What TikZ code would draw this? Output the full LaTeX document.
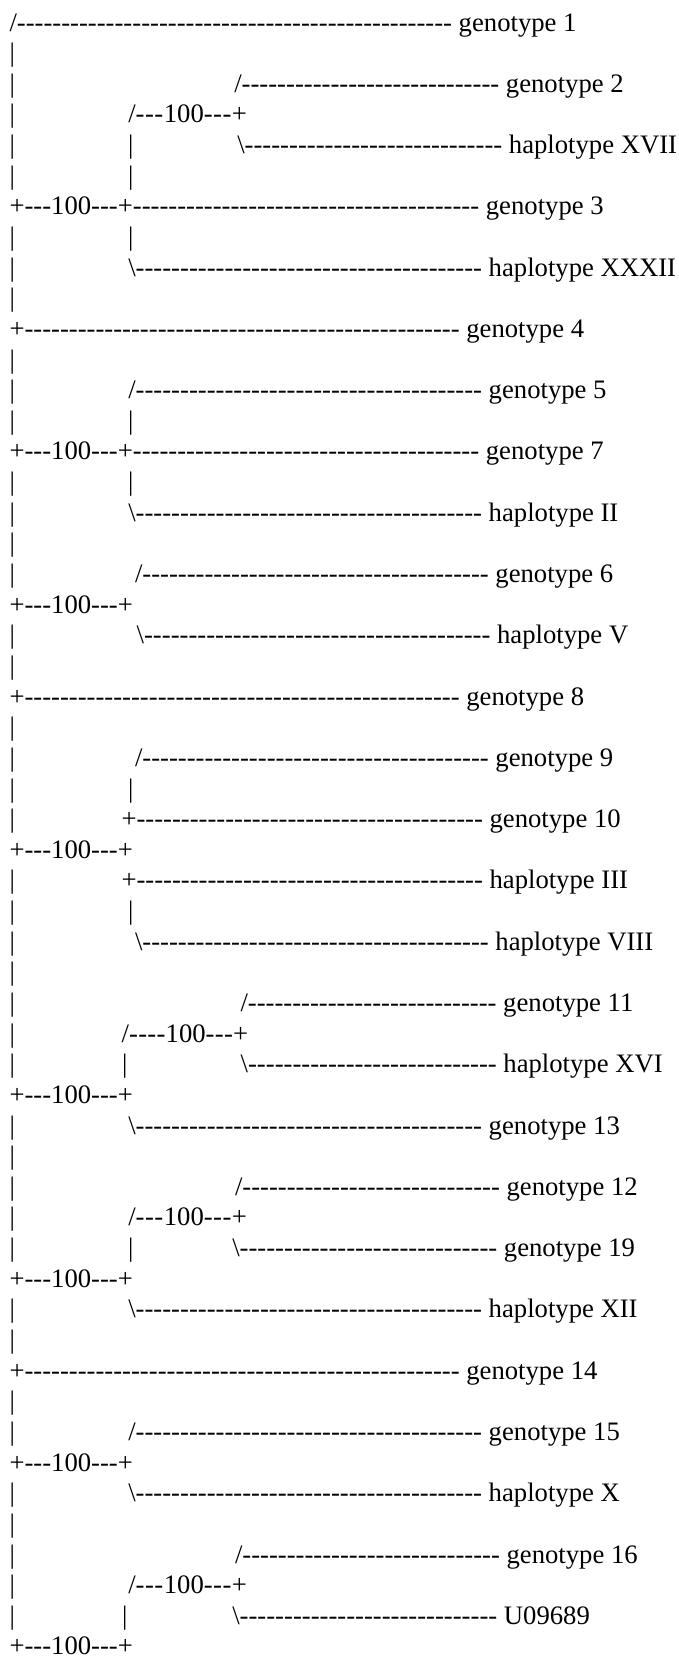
\documentclass[tikz,border=0pt]{standalone}
\usepackage{fontspec}
\setmainfont{Liberation Serif}
\makeatletter
\newcommand\dashesk[2]{\begingroup\@tempcnta=#1\relax\loop\ifnum\@tempcnta>0 -\kern#2\advance\@tempcnta\m@ne\repeat\endgroup}
\makeatother
\newcommand\dashes[1]{\dashesk{#1}{0pt}}
\newcommand\myvb{\textbar}
\newcommand\mybs{\textbackslash}
\newcommand\hund[2][0pt]{\dashesk{#2}{#1}100\dashesk{3}{#1}+}
\tikzset{txt/.style={anchor=base west, inner sep=0pt, outer sep=0pt, font=\fontsize{26.67}{32}\selectfont}}
\newcommand\row[4]{\node[txt] (#3) at (#2,{-31-(#1-1)*30.64}) {#4};}
\begin{document}
\begin{tikzpicture}[x=1pt,y=1pt]
\fill[white] (0,0) rectangle (679,-1660);
\useasboundingbox (0,0) rectangle (679,-1660);
\row{1}{9.5}{r1}{/\dashes{49}\ genotype 1}
\row{2}{9.5}{r2}{\myvb}
\row{3}{9.5}{r3}{\myvb}\row{3}{234.3}{r3b}{/\dashes{29}\ genotype 2}
\row{4}{9.5}{r4}{\myvb}\row{4}{128.3}{r4b}{/\hund[0.5pt]{3}}
\row{5}{9.5}{r5}{\myvb}\row{5}{128.2}{r5b}{\myvb}\row{5}{237.3}{r5c}{\mybs\dashes{29}\ haplotype XVII}
\row{6}{9.5}{r6}{\myvb}\row{6}{128.2}{r6b}{\myvb}
\row{7}{9.5}{r7}{+\hund{3}\dashes{39}\ genotype 3}
\row{8}{9.5}{r8}{\myvb}\row{8}{128.2}{r8b}{\myvb}
\row{9}{9.5}{r9}{\myvb}\row{9}{128.3}{r9b}{\mybs\dashes{39}\ haplotype XXXII}
\row{10}{9.5}{r10}{\myvb}
\row{11}{9.5}{r11}{+\dashes{49}\ genotype 4}
\row{12}{9.5}{r12}{\myvb}
\row{13}{9.5}{r13}{\myvb}\row{13}{128.3}{r13b}{/\dashes{39}\ genotype 5}
\row{14}{9.5}{r14}{\myvb}\row{14}{128.2}{r14b}{\myvb}
\row{15}{9.5}{r15}{+\hund{3}\dashes{39}\ genotype 7}
\row{16}{9.5}{r16}{\myvb}\row{16}{128.2}{r16b}{\myvb}
\row{17}{9.5}{r17}{\myvb}\row{17}{128.3}{r17b}{\mybs\dashes{39}\ haplotype II}
\row{18}{9.5}{r18}{\myvb}
\row{19}{9.5}{r19}{\myvb}\row{19}{135}{r19b}{/\dashes{39}\ genotype 6}
\row{20}{9.5}{r20}{+\hund{3}}
\row{21}{9.5}{r21}{\myvb}\row{21}{136.7}{r21b}{\mybs\dashes{39}\ haplotype V}
\row{22}{9.5}{r22}{\myvb}
\row{23}{9.5}{r23}{+\dashes{49}\ genotype 8}
\row{24}{9.5}{r24}{\myvb}
\row{25}{9.5}{r25}{\myvb}\row{25}{135}{r25b}{/\dashes{39}\ genotype 9}
\row{26}{9.5}{r26}{\myvb}\row{26}{128.2}{r26b}{\myvb}
\row{27}{9.5}{r27}{\myvb}\row{27}{121.5}{r27b}{+\dashes{39}\ genotype 10}
\row{28}{9.5}{r28}{+\hund{3}}
\row{29}{9.5}{r29}{\myvb}\row{29}{121.5}{r29b}{+\dashes{39}\ haplotype III}
\row{30}{9.5}{r30}{\myvb}\row{30}{128.2}{r30b}{\myvb}
\row{31}{9.5}{r31}{\myvb}\row{31}{135}{r31b}{\mybs\dashes{39}\ haplotype VIII}
\row{32}{9.5}{r32}{\myvb}
\row{33}{9.5}{r33}{\myvb}\row{33}{240.5}{r33b}{/\dashes{28}\ genotype 11}
\row{34}{9.5}{r34}{\myvb}\row{34}{121.7}{r34b}{/\hund[0.28pt]{4}}
\row{35}{9.5}{r35}{\myvb}\row{35}{122.2}{r35b}{\myvb}\row{35}{240.7}{r35c}{\mybs\dashes{28}\ haplotype XVI}
\row{36}{9.5}{r36}{+\hund{3}}
\row{37}{9.5}{r37}{\myvb}\row{37}{128.3}{r37b}{\mybs\dashes{39}\ genotype 13}
\row{38}{9.5}{r38}{\myvb}
\row{39}{9.5}{r39}{\myvb}\row{39}{235}{r39b}{/\dashes{29}\ genotype 12}
\row{40}{9.5}{r40}{\myvb}\row{40}{128.3}{r40b}{/\hund[0.5pt]{3}}
\row{41}{9.5}{r41}{\myvb}\row{41}{128.2}{r41b}{\myvb}\row{41}{232.3}{r41c}{\mybs\dashes{29}\ genotype 19}
\row{42}{9.5}{r42}{+\hund{3}}
\row{43}{9.5}{r43}{\myvb}\row{43}{128.3}{r43b}{\mybs\dashes{39}\ haplotype XII}
\row{44}{9.5}{r44}{\myvb}
\row{45}{9.5}{r45}{+\dashes{49}\ genotype 14}
\row{46}{9.5}{r46}{\myvb}
\row{47}{9.5}{r47}{\myvb}\row{47}{128.3}{r47b}{/\dashes{39}\ genotype 15}
\row{48}{9.5}{r48}{+\hund{3}}
\row{49}{9.5}{r49}{\myvb}\row{49}{128.3}{r49b}{\mybs\dashes{39}\ haplotype X}
\row{50}{9.5}{r50}{\myvb}
\row{51}{9.5}{r51}{\myvb}\row{51}{235}{r51b}{/\dashes{29}\ genotype 16}
\row{52}{9.5}{r52}{\myvb}\row{52}{128.3}{r52b}{/\hund[0.5pt]{3}}
\row{53}{9.5}{r53}{\myvb}\row{53}{122.2}{r53b}{\myvb}\row{53}{232.3}{r53c}{\mybs\dashes{29}\ U09689}
\row{54}{9.5}{r54}{+\hund{3}}
\end{tikzpicture}
\end{document}
